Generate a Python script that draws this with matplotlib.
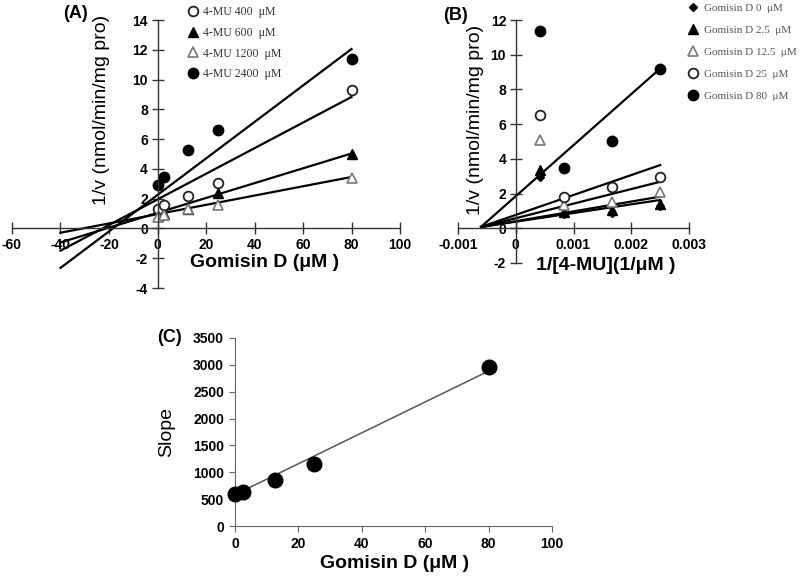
import numpy as np
import matplotlib.pyplot as plt

plt.rcParams['font.family'] = ['Liberation Sans', 'DejaVu Sans']
plt.rcParams['font.weight'] = 'bold'
plt.rcParams['axes.unicode_minus'] = False

# Panel A : Dixon plot, 1/v vs Gomisin D
gomisin = [0, 2.5, 12.5, 25, 80]
A_400 = [1.3, 1.55, 2.2, 3.05, 9.3]
A_600 = [0.85, 0.95, 1.3, 2.4, 5.0]
A_1200 = [0.8, 0.9, 1.3, 1.6, 3.4]
A_2400 = [2.95, 3.45, 5.25, 6.6, 11.35]
# droites tracees (pente, ordonnee a l'origine)
A_slope = [0.086, 0.0498, 0.0312, 0.1225]
A_icpt = [1.95, 1.05, 0.96, 2.25]

# Panel B : Lineweaver-Burk, 1/v vs 1/[4-MU]
inv_mu = [1 / 2400, 1 / 1200, 1 / 600, 1 / 400]
B_0 = [2.95, 0.8, 0.9, 1.3]
B_2_5 = [3.35, 0.95, 1.05, 1.42]
B_12_5 = [5.1, 1.35, 1.5, 2.1]
B_25 = [6.5, 1.8, 2.4, 2.95]
B_80 = [11.35, 3.45, 5.0, 9.2]
B_slope = [500, 565, 840, 1148, 2940]
B_icpt = [0.38, 0.41, 0.58, 0.77, 1.85]

# Panel C : pente vs Gomisin D
C_slope = [603, 633, 863, 1148, 2960]
C_fit = (28.76, 584)

A_labels = ['4-MU 400  μM', '4-MU 600  μM', '4-MU 1200  μM', '4-MU 2400  μM']
B_labels = ['Gomisin D 0  μM', 'Gomisin D 2.5  μM', 'Gomisin D 12.5  μM',
            'Gomisin D 25  μM', 'Gomisin D 80  μM']

fig = plt.figure(figsize=(8, 5.77), dpi=100)

def px(x, y):
    return x / 800, 1 - y / 577

def center_axes(ax):
    ax.spines['left'].set_position(('data', 0))
    ax.spines['bottom'].set_position(('data', 0))
    ax.spines['top'].set_visible(False)
    ax.spines['right'].set_visible(False)
    for s in ['left', 'bottom']:
        ax.spines[s].set_color('#333333')
        ax.spines[s].set_linewidth(1.0)
    ax.tick_params(direction='inout', length=8, width=1, color='#333333',
                   labelsize=10, pad=3)

filled_c = dict(marker='o', color='black', markersize=7.5, linestyle='none')
open_c = dict(marker='o', markerfacecolor='white', markeredgecolor='#222222',
              markeredgewidth=1.3, markersize=7, linestyle='none')
filled_t = dict(marker='^', color='black', markersize=6.5, linestyle='none')
open_t = dict(marker='^', markerfacecolor='white', markeredgecolor='#777777',
              markeredgewidth=1.2, markersize=6.5, linestyle='none')
diam = dict(marker='D', color='black', markersize=4, linestyle='none')

############ (A) ############
axA = fig.add_axes([12 / 800, 1 - 288 / 577, 388 / 800, 268 / 577])
axA.set_xlim(-60, 100)
axA.set_ylim(-4, 14)
axA.set_xticks(np.arange(-60, 101, 20))
axA.set_yticks(np.arange(-4, 15, 2))
xl = np.array([-40, 80])
for k in range(4):
    axA.plot(xl, A_slope[k] * xl + A_icpt[k], color='black', lw=1.6)
axA.plot(gomisin, A_400, label=A_labels[0], **open_c)
axA.plot(gomisin, A_600, label=A_labels[1], **filled_t)
axA.plot(gomisin, A_1200, label=A_labels[2], **open_t)
axA.plot(gomisin, A_2400, label=A_labels[3], **filled_c)
center_axes(axA)
legA = axA.legend(loc='upper left', bbox_to_anchor=px(181, 0), bbox_transform=fig.transFigure,
                  frameon=False, numpoints=1, handlelength=1, handletextpad=0.4,
                  labelspacing=0.75, borderpad=0,
                  prop={'family': 'Liberation Serif', 'size': 8.5, 'weight': 'normal'})
for t in legA.get_texts():
    t.set_color('#333333')

############ (B) ############
axB = fig.add_axes([458 / 800, 1 - 263 / 577, 231 / 800, 243 / 577])
axB.set_xlim(-0.001, 0.003)
axB.set_ylim(-2, 12)
axB.set_xticks([-0.001, 0, 0.001, 0.002, 0.003], ['-0.001', '0', '0.001', '0.002', '0.003'])
axB.set_yticks(np.arange(-2, 13, 2))
xb = np.array([-0.0006, 0.0025])
for k in range(5):
    axB.plot(xb, B_slope[k] * xb + B_icpt[k], color='black', lw=1.6)
axB.plot(inv_mu, B_0, label=B_labels[0], **diam)
axB.plot(inv_mu, B_2_5, label=B_labels[1], **filled_t)
axB.plot(inv_mu, B_12_5, label=B_labels[2], **open_t)
axB.plot(inv_mu, B_25, label=B_labels[3], **open_c)
axB.plot(inv_mu, B_80, label=B_labels[4], **filled_c)
center_axes(axB)
legB = axB.legend(loc='upper left', bbox_to_anchor=px(682, -2), bbox_transform=fig.transFigure,
                  frameon=False, numpoints=1, handlelength=1, handletextpad=0.5,
                  labelspacing=1.1, borderpad=0,
                  prop={'family': 'Liberation Serif', 'size': 8, 'weight': 'normal'})
for t in legB.get_texts():
    t.set_color('#555555')

############ (C) ############
axC = fig.add_axes([235 / 800, 1 - 526 / 577, 317 / 800, 188 / 577])
axC.set_xlim(0, 100)
axC.set_ylim(0, 3500)
axC.set_xticks(np.arange(0, 101, 20))
axC.set_yticks(np.arange(0, 3501, 500))
xc = np.array([0, 80])
axC.plot(xc, C_fit[0] * xc + C_fit[1], color='#555555', lw=1.1)
axC.plot(gomisin, C_slope, marker='o', color='black', markersize=10.5, linestyle='none',
         clip_on=False, zorder=5)
axC.spines['top'].set_visible(False)
axC.spines['right'].set_visible(False)
for s in ['left', 'bottom']:
    axC.spines[s].set_color('#666666')
axC.tick_params(direction='out', length=4, color='#666666', labelsize=10, pad=4)

# titres des axes et etiquettes des panneaux
fig.text(*px(102, 110), '1/v (nmol/min/mg pro)', rotation=90, ha='center', va='center',
         fontsize=14, fontweight='normal')
fig.text(*px(265, 263), 'Gomisin D (μM )', ha='center', va='center', fontsize=14)
fig.text(*px(476, 120), '1/v (nmol/min/mg pro)', rotation=90, ha='center', va='center',
         fontsize=14, fontweight='normal')
fig.text(*px(606, 266), '1/[4-MU](1/μM )', ha='center', va='center', fontsize=14)
fig.text(*px(167, 432), 'Slope', rotation=90, ha='center', va='center',
         fontsize=14, fontweight='normal')
fig.text(*px(395, 563), 'Gomisin D (μM )', ha='center', va='center', fontsize=14)
fig.text(*px(75, 13), '(A)', ha='center', va='center', fontsize=13)
fig.text(*px(456, 15), '(B)', ha='center', va='center', fontsize=13)
fig.text(*px(169, 338), '(C)', ha='center', va='center', fontsize=13)

fig.savefig('out.png', dpi=100)
